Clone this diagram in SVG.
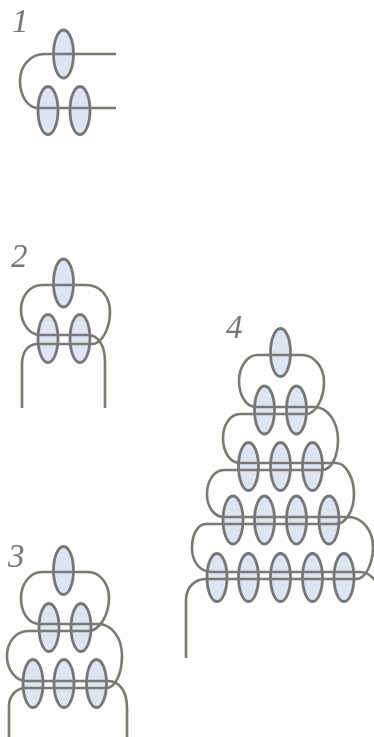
<svg xmlns="http://www.w3.org/2000/svg" width="374" height="737" viewBox="0 0 374 737">
<defs>
<filter id="soft" x="-5%" y="-5%" width="110%" height="110%"><feGaussianBlur stdDeviation="0.5"/></filter>
<ellipse id="b" rx="10" ry="24" fill="#dce5f0" stroke="#767676" stroke-width="2.8"/>
</defs>
<style>
.w{fill:none;stroke:#7b7876;stroke-width:2.6}
.n{font-family:"Liberation Serif",serif;font-style:italic;font-size:33px;fill:#777}
</style>
<rect width="374" height="737" fill="#fdfdfb"/>
<g filter="url(#soft)">
<g id="label-1"><text class="n" x="12" y="32">1</text></g>
<g id="label-2"><text class="n" x="11" y="267">2</text></g>
<g id="label-3"><text class="n" x="8" y="567">3</text></g>
<g id="label-4"><text class="n" x="226" y="338">4</text></g>
<g id="figure-1-beads">
<use href="#b" x="63.5" y="54"/><use href="#b" x="48" y="110.5"/><use href="#b" x="80" y="110.5"/>
</g>
<g id="figure-2-beads">
<use href="#b" x="63.5" y="283"/><use href="#b" x="48" y="338.5"/><use href="#b" x="80" y="338.5"/>
</g>
<g id="figure-3-beads">
<use href="#b" x="63.5" y="570.5"/><use href="#b" x="49" y="627.5"/><use href="#b" x="81" y="627.5"/>
<use href="#b" x="33" y="683.5"/><use href="#b" x="64" y="683.5"/><use href="#b" x="96.5" y="683.5"/>
</g>
<g id="figure-4-beads">
<use href="#b" x="280.5" y="352.5"/>
<use href="#b" x="264.5" y="410"/><use href="#b" x="296.5" y="410"/>
<use href="#b" x="248.5" y="466.5"/><use href="#b" x="280.5" y="466.5"/><use href="#b" x="312.5" y="466.5"/>
<use href="#b" x="233" y="520"/><use href="#b" x="264.5" y="520"/><use href="#b" x="296.5" y="520"/><use href="#b" x="329" y="520"/>
<use href="#b" x="217" y="577.5"/><use href="#b" x="248.5" y="577.5"/><use href="#b" x="280.5" y="577.5"/><use href="#b" x="312.5" y="577.5"/><use href="#b" x="344" y="577.5"/>
</g>
<g id="connectors">
<path class="w" d="M116,54H45C30,54 20,66 20,81C20,96 28,108 38,108H116"/>
<path class="w" d="M22,408V364C22,352 28,344 38,344H92C102,344 110,328 110,312C110,296 100,285 86,285H42C30,285 21,296 21,310C21,324 30,335 40,335H88C98,335 105,345 105,362V408"/>
<path class="w" d="M9,737V706C9,696 16,688 26,688H106C116,688 122,672 122,656C122,638 112,624 98,624H40C28,624 21,612 21,598C21,584 30,572 42,572H88C100,572 109,584 109,598C109,614 100,631 88,631H28C16,631 7,642 7,656C7,670 16,681 26,681H108C120,681 127,692 127,708V737"/>
<path class="w" d="M186,658V600C186,588 194,579 206,579H356C366,579 373,563 373,547C373,530 362,517 348,517H224C214,517 207,507 207,494C207,481 214,470 224,470H322C332,470 338,455 338,440C338,422 328,407 314,407H256C246,407 239,395 239,381C239,367 247,355 258,355H302C314,355 324,367 324,382C324,398 316,414 306,414H240C231,414 223,424 223,438C223,452 230,463 240,463H336C346,463 354,478 354,494C354,510 346,524 336,524H206C198,524 192,534 192,548C192,562 200,572 212,572H360C367,572 372,576 376,582"/>
</g>
</g>
</svg>
